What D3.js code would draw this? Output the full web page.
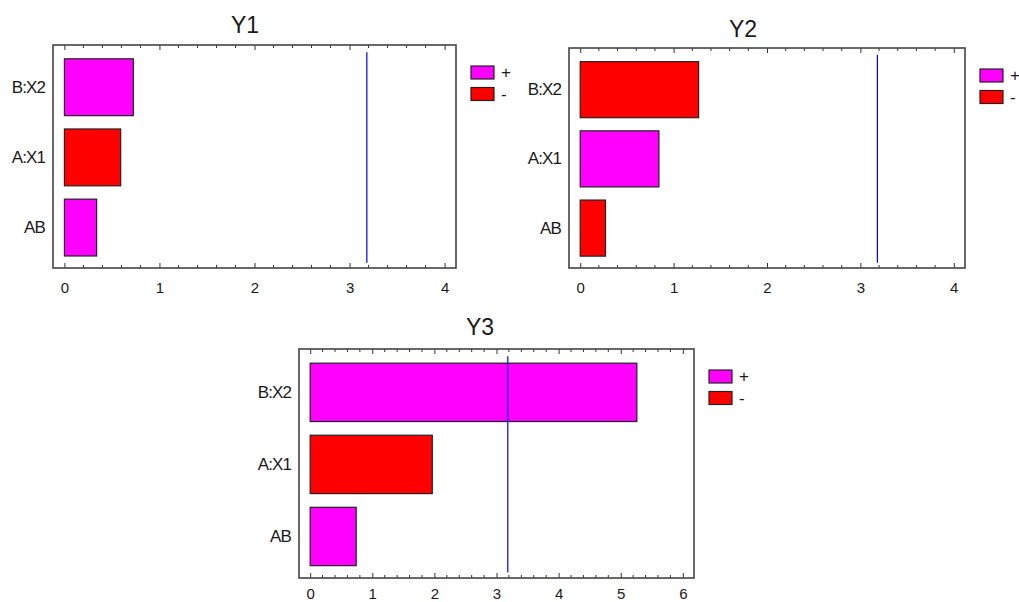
<!DOCTYPE html>
<html>
<head>
<meta charset="utf-8">
<script src="https://cdn.jsdelivr.net/npm/d3@7"></script>
<style>
  html, body { margin: 0; padding: 0; background: #fff; }
  svg { display: block; }
  text { font-family: "Liberation Sans", Arial, sans-serif; fill: #1a1a1a; }
</style>
</head>
<body>
<svg id="chart" width="1019" height="602"></svg>
<script>
// Effect names (top to bottom) and standardized effect magnitudes per response
const categories = ["B:X2", "A:X1", "AB"];
const y1Values = [0.725, 0.592, 0.339];
const y1Signs  = ["+", "-", "+"];
const y2Values = [1.268, 0.843, 0.271];
const y2Signs  = ["-", "+", "-"];
const y3Values = [5.26, 1.966, 0.741];
const y3Signs  = ["+", "-", "+"];
const criticalValue = 3.182;
const legendLabels = ["+", "-"];
const y12Ticks = [0, 1, 2, 3, 4];
const y3Ticks  = [0, 1, 2, 3, 4, 5, 6];

const signColor = { "+": "#ff00ff", "-": "#ff0000" };

// Panel frames on the page
const panels = [
  { title: "Y1", values: y1Values, signs: y1Signs, ticks: y12Ticks,
    frame: { left: 53, right: 456, top: 45, bottom: 268 }, titleX: 245, titleY: 33, tickPad: 14 },
  { title: "Y2", values: y2Values, signs: y2Signs, ticks: y12Ticks,
    frame: { left: 569, right: 965, top: 48, bottom: 268 }, titleX: 743, titleY: 37, tickPad: 14 },
  { title: "Y3", values: y3Values, signs: y3Signs, ticks: y3Ticks,
    frame: { left: 299, right: 694, top: 349, bottom: 578 }, titleX: 480, titleY: 335, tickPad: 10 }
];

const svg = d3.select("#chart");

panels.forEach(p => {
  const f = p.frame;
  const h = f.bottom - f.top;
  const maxTick = d3.max(p.ticks);
  const pad = maxTick * 0.03;

  const x = d3.scaleLinear().domain([-pad, maxTick + pad]).range([f.left, f.right]);
  const y = d3.scaleBand().domain(categories)
    .range([f.top + 0.032 * h, f.bottom - 0.024 * h])
    .paddingInner(0.19).paddingOuter(0.095);

  const g = svg.append("g");

  // title
  g.append("text")
    .attr("x", p.titleX).attr("y", p.titleY)
    .attr("text-anchor", "middle")
    .style("font-size", "23px")
    .text(p.title);

  // bars
  const rows = categories.map((c, i) => ({ cat: c, v: p.values[i], s: p.signs[i] }));
  g.selectAll("rect.bar").data(rows).join("rect")
    .attr("class", "bar")
    .attr("x", x(0))
    .attr("y", d => y(d.cat))
    .attr("width", d => x(d.v) - x(0))
    .attr("height", y.bandwidth())
    .attr("fill", d => signColor[d.s])
    .attr("stroke", "#222")
    .attr("stroke-width", 1.2);

  // critical value reference line
  g.append("line")
    .attr("x1", x(criticalValue)).attr("x2", x(criticalValue))
    .attr("y1", y.range()[0]).attr("y2", y.range()[1])
    .attr("stroke", "#0000ff").attr("stroke-width", 1.2);

  // minor ticks (fifths) on top and bottom edges
  const minor = d3.range(0, maxTick * 5 + 1).map(k => k / 5).filter(v => !p.ticks.includes(v));
  const tickG = g.append("g").attr("stroke", "#333").attr("stroke-width", 1);
  minor.forEach(v => {
    tickG.append("line").attr("x1", x(v)).attr("x2", x(v)).attr("y1", f.bottom).attr("y2", f.bottom - 3);
    tickG.append("line").attr("x1", x(v)).attr("x2", x(v)).attr("y1", f.top).attr("y2", f.top + 3);
  });

  // major ticks via d3 axes, pointing inward
  const bottomAxis = d3.axisBottom(x).tickValues(p.ticks).tickSizeInner(-5).tickSizeOuter(0)
    .tickPadding(p.tickPad).tickFormat(d3.format("d"));
  const ax = g.append("g").attr("transform", `translate(0,${f.bottom})`).call(bottomAxis);
  ax.select(".domain").remove();
  ax.selectAll(".tick line").attr("stroke", "#333");
  ax.selectAll(".tick text")
    .style("font-size", "15px").style("font-family", "'Liberation Sans', Arial, sans-serif")
    .attr("fill", "#1a1a1a");

  const topAxis = d3.axisTop(x).tickValues(p.ticks).tickSizeInner(-5).tickSizeOuter(0).tickFormat("");
  const axT = g.append("g").attr("transform", `translate(0,${f.top})`).call(topAxis);
  axT.select(".domain").remove();
  axT.selectAll(".tick line").attr("stroke", "#333");

  // category labels
  const leftAxis = d3.axisLeft(y).tickSize(0).tickPadding(8);
  const axL = g.append("g").attr("transform", `translate(${f.left},0)`).call(leftAxis);
  axL.select(".domain").remove();
  axL.selectAll(".tick text")
    .style("font-size", "17px").style("font-family", "'Liberation Sans', Arial, sans-serif")
    .style("letter-spacing", "-0.9px")
    .attr("fill", "#1a1a1a");

  // frame
  g.append("rect")
    .attr("x", f.left).attr("y", f.top)
    .attr("width", f.right - f.left).attr("height", h)
    .attr("fill", "none").attr("stroke", "#444").attr("stroke-width", 1.6);

  // legend
  const lg = g.append("g").attr("transform", `translate(${f.right + 15},${f.top + 21})`);
  legendLabels.forEach((lab, i) => {
    lg.append("rect")
      .attr("x", 0).attr("y", i * 21.5)
      .attr("width", 23).attr("height", 13)
      .attr("fill", signColor[lab]).attr("stroke", "#222").attr("stroke-width", 1.2);
    lg.append("text")
      .attr("x", 30).attr("y", i * 21.5 + 12)
      .style("font-size", "17px")
      .text(lab);
  });
});
</script>
</body>
</html>
